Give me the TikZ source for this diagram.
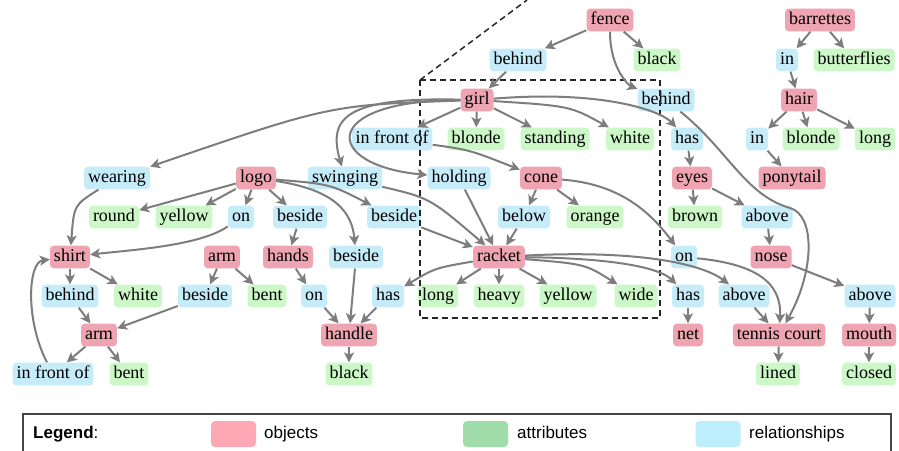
\documentclass[tikz,border=0pt]{standalone}
\usepackage{fontspec}
\setmainfont{Liberation Serif}
\newfontfamily\legendfont{Liberation Sans}
\usetikzlibrary{arrows.meta}

\definecolor{objfill}{RGB}{238,164,177}
\definecolor{attrfill}{RGB}{204,247,198}
\definecolor{relfill}{RGB}{198,236,250}
\definecolor{objkey}{RGB}{255,168,181}
\definecolor{attrkey}{RGB}{160,221,170}
\definecolor{relkey}{RGB}{188,238,252}
\definecolor{edgegray}{RGB}{125,125,125}
\definecolor{framegray}{RGB}{70,70,70}

\tikzset{
  gnode/.style={rectangle, rounded corners=4pt, inner xsep=4pt, inner ysep=3.2pt,
    text height=12.5pt, text depth=4pt, font=\fontsize{18}{20}\selectfont},
  obj/.style={gnode, fill=objfill},
  attr/.style={gnode, fill=attrfill},
  rel/.style={gnode, fill=relfill},
  edge/.style={draw=edgegray, line width=2pt,
    -{Stealth[length=10pt,width=10pt,inset=2.5pt]}},
  focusbox/.style={draw=black!85, line width=1.5pt, dash pattern=on 6pt off 4pt},
  keybox/.style={rectangle, rounded corners=4pt, minimum width=45pt, minimum height=26pt, inner sep=0pt},
  keytext/.style={anchor=west, inner sep=0pt, text height=12pt, text depth=3.5pt,
    font=\legendfont\fontsize{17}{19}\selectfont}
}

\begin{document}
\begin{tikzpicture}[x=1pt,y=-1pt]
\useasboundingbox (0,0) rectangle (899,450);

% ---------- nodes ----------
\node[obj]  (fence)       at (610,20)  {fence};
\node[obj]  (barrettes)   at (820,20)  {barrettes};

\node[rel]  (behindA)     at (518,60)  {behind};
\node[attr] (blackA)      at (657,60)  {black};
\node[rel]  (inA)         at (787,60)  {in};
\node[attr] (butterflies) at (854,60)  {butterflies};

\node[obj]  (girl)        at (477,100) {girl};
\node[rel]  (behindB)     at (666,100) {behind};
\node[obj]  (hair)        at (799,100) {hair};

\node[rel]  (infrontA)    at (392,139) {in front of};
\node[attr] (blondeA)     at (476,139) {blonde};
\node[attr] (standing)    at (555,139) {standing};
\node[attr] (whiteA)      at (630,139) {white};
\node[rel]  (hasA)        at (687,139) {has};
\node[rel]  (inB)         at (757,139) {in};
\node[attr] (blondeB)     at (811,139) {blonde};
\node[attr] (longA)       at (875,139) {long};

\node[rel]  (wearing)     at (117,178) {wearing};
\node[obj]  (logo)        at (256,178) {logo};
\node[rel]  (swinging)    at (345,178) {swinging};
\node[rel]  (holding)     at (459,178) {holding};
\node[obj]  (cone)        at (541,178) {cone};
\node[obj]  (eyes)        at (692,178) {eyes};
\node[obj]  (ponytail)    at (792,178) {ponytail};

\node[attr] (round)       at (114,217) {round};
\node[attr] (yellowA)     at (184,217) {yellow};
\node[rel]  (onA)         at (241,217) {on};
\node[rel]  (besideA)     at (300,217) {beside};
\node[rel]  (besideB)     at (394,217) {beside};
\node[rel]  (below)       at (524,217) {below};
\node[attr] (orange)      at (595,217) {orange};
\node[attr] (brown)       at (695,217) {brown};
\node[rel]  (aboveA)      at (767,217) {above};

\node[obj]  (shirt)       at (70,257)  {shirt};
\node[obj]  (armA)        at (222,257) {arm};
\node[obj]  (hands)       at (288,257) {hands};
\node[rel]  (besideC)     at (356,257) {beside};
\node[obj]  (racket)      at (499,257) {racket};
\node[rel]  (onB)         at (684,257) {on};
\node[obj]  (nose)        at (771,257) {nose};

\node[rel]  (behindC)     at (70,296)  {behind};
\node[attr] (whiteB)      at (138,296) {white};
\node[rel]  (besideD)     at (205,296) {beside};
\node[attr] (bentA)       at (267,296) {bent};
\node[rel]  (onC)         at (314,296) {on};
\node[rel]  (hasB)        at (388,296) {has};
\node[attr] (longB)       at (438,296) {long};
\node[attr] (heavy)       at (499,296) {heavy};
\node[attr] (yellowB)     at (568,296) {yellow};
\node[attr] (wide)        at (636,296) {wide};
\node[rel]  (hasC)        at (688,296) {has};
\node[rel]  (aboveB)      at (744,296) {above};
\node[rel]  (aboveC)      at (870,296) {above};

\node[obj]  (armB)        at (99,335)  {arm};
\node[obj]  (handle)      at (349,335) {handle};
\node[obj]  (net)         at (688,335) {net};
\node[obj]  (court)       at (779,335) {tennis court};
\node[obj]  (mouth)       at (869,335) {mouth};

\node[rel]  (infrontB)    at (53,374)  {in front of};
\node[attr] (bentB)       at (129,374) {bent};
\node[attr] (blackB)      at (349,374) {black};
\node[attr] (lined)       at (778,374) {lined};
\node[attr] (closed)      at (869,374) {closed};

% ---------- highlighted region ----------
\coordinate (boxNW) at (420,80);
\coordinate (boxSE) at (660,318);
\coordinate (rayEnd) at (527,0);
\draw[focusbox] (boxNW) rectangle (boxSE);
\draw[focusbox] (boxNW) -- (rayEnd);

% ---------- edges ----------
% fence
\draw[edge] (fence) -- (behindA);
\draw[edge] (fence) -- (blackA);
\draw[edge] (fence) .. controls (610,70) and (630,86) .. (behindB);
\draw[edge] (behindA) -- (girl);
\draw[edge] (behindB) .. controls (728,150) and (745,195) .. (790,208)
                      .. controls (815,215) and (815,270) .. (court);

% barrettes / hair
\draw[edge] (barrettes) -- (inA);
\draw[edge] (barrettes) -- (butterflies);
\draw[edge] (inA) -- (hair);
\draw[edge] (hair) -- (inB);
\draw[edge] (hair) -- (blondeB);
\draw[edge] (hair) -- (longA);
\draw[edge] (inB) -- (ponytail);

% girl
\draw[edge] (girl) -- (infrontA);
\draw[edge] (girl) -- (blondeA);
\draw[edge] (girl) -- (standing);
\draw[edge] (girl) .. controls (570,106) .. (whiteA);
\draw[edge] (girl) .. controls (600,90) and (660,110) .. (hasA);
\draw[edge] (girl) .. controls (330,105) .. (wearing);
\draw[edge] (girl) .. controls (345,97) and (328,118) .. (swinging);
\draw[edge] (girl) .. controls (318,100) and (322,165) .. (holding);

% eyes / nose / mouth
\draw[edge] (hasA) -- (eyes);
\draw[edge] (eyes) -- (brown);
\draw[edge] (eyes) -- (aboveA);
\draw[edge] (aboveA) -- (nose);
\draw[edge] (nose) -- (aboveC);
\draw[edge] (aboveC) -- (mouth);
\draw[edge] (mouth) -- (closed);

% cone
\draw[edge] (infrontA) .. controls (470,150) .. (cone);
\draw[edge] (cone) -- (below);
\draw[edge] (cone) -- (orange);
\draw[edge] (cone) .. controls (620,184) and (650,212) .. (onB);
\draw[edge] (onB) .. controls (755,264) and (782,282) .. (court);
\draw[edge] (below) -- (racket);

% racket
\draw[edge] (swinging) .. controls (430,198) .. (racket);
\draw[edge] (holding) -- (racket);
\draw[edge] (besideB) -- (racket);
\draw[edge] (racket) .. controls (435,268) .. (hasB);
\draw[edge] (racket) -- (longB);
\draw[edge] (racket) -- (heavy);
\draw[edge] (racket) -- (yellowB);
\draw[edge] (racket) .. controls (585,264) .. (wide);
\draw[edge] (racket) .. controls (615,258) and (660,268) .. (hasC);
\draw[edge] (racket) .. controls (630,250) and (700,262) .. (aboveB);
\draw[edge] (hasC) -- (net);
\draw[edge] (aboveB) -- (court);
\draw[edge] (court) -- (lined);

% logo
\draw[edge] (logo) -- (round);
\draw[edge] (logo) -- (yellowA);
\draw[edge] (logo) -- (onA);
\draw[edge] (logo) -- (besideA);
\draw[edge] (logo) .. controls (330,184) .. (besideB);
\draw[edge] (logo) .. controls (335,190) and (352,212) .. (besideC);
\draw[edge] (onA) .. controls (200,246) and (130,250) .. (shirt);

% hands / handle
\draw[edge] (besideA) -- (hands);
\draw[edge] (hands) -- (onC);
\draw[edge] (onC) -- (handle);
\draw[edge] (besideC) -- (handle);
\draw[edge] (hasB) -- (handle);
\draw[edge] (handle) -- (blackB);

% shirt / arms
\draw[edge] (wearing) .. controls (74,205) .. (shirt);
\draw[edge] (shirt) -- (behindC);
\draw[edge] (shirt) -- (whiteB);
\draw[edge] (behindC) -- (armB);
\draw[edge] (armA) -- (besideD);
\draw[edge] (armA) -- (bentA);
\draw[edge] (besideD) -- (armB);
\draw[edge] (armB) -- (infrontB);
\draw[edge] (armB) -- (bentB);
\draw[edge] (infrontB) .. controls (25,320) and (28,262) .. (shirt);

% ---------- legend ----------
\coordinate (legBL) at (23,452);
\coordinate (legTL) at (23,414);
\coordinate (legTR) at (891,414);
\coordinate (legBR) at (891,452);
\draw[framegray, line width=1.4pt] (legBL) -- (legTL) -- (legTR) -- (legBR);
\node[keytext] (legtitle) at (33,434) {\textbf{Legend}:};
\node[keybox, fill=objkey]  (keyobj)  at (233.5,434) {};
\node[keytext] (keyobjtxt) at (264,434) {objects};
\node[keybox, fill=attrkey] (keyattr) at (485.5,434) {};
\node[keytext] (keyattrtxt) at (517,434) {attributes};
\node[keybox, fill=relkey]  (keyrel)  at (718,434) {};
\node[keytext] (keyreltxt) at (749,434) {relationships};
\end{tikzpicture}
\end{document}
